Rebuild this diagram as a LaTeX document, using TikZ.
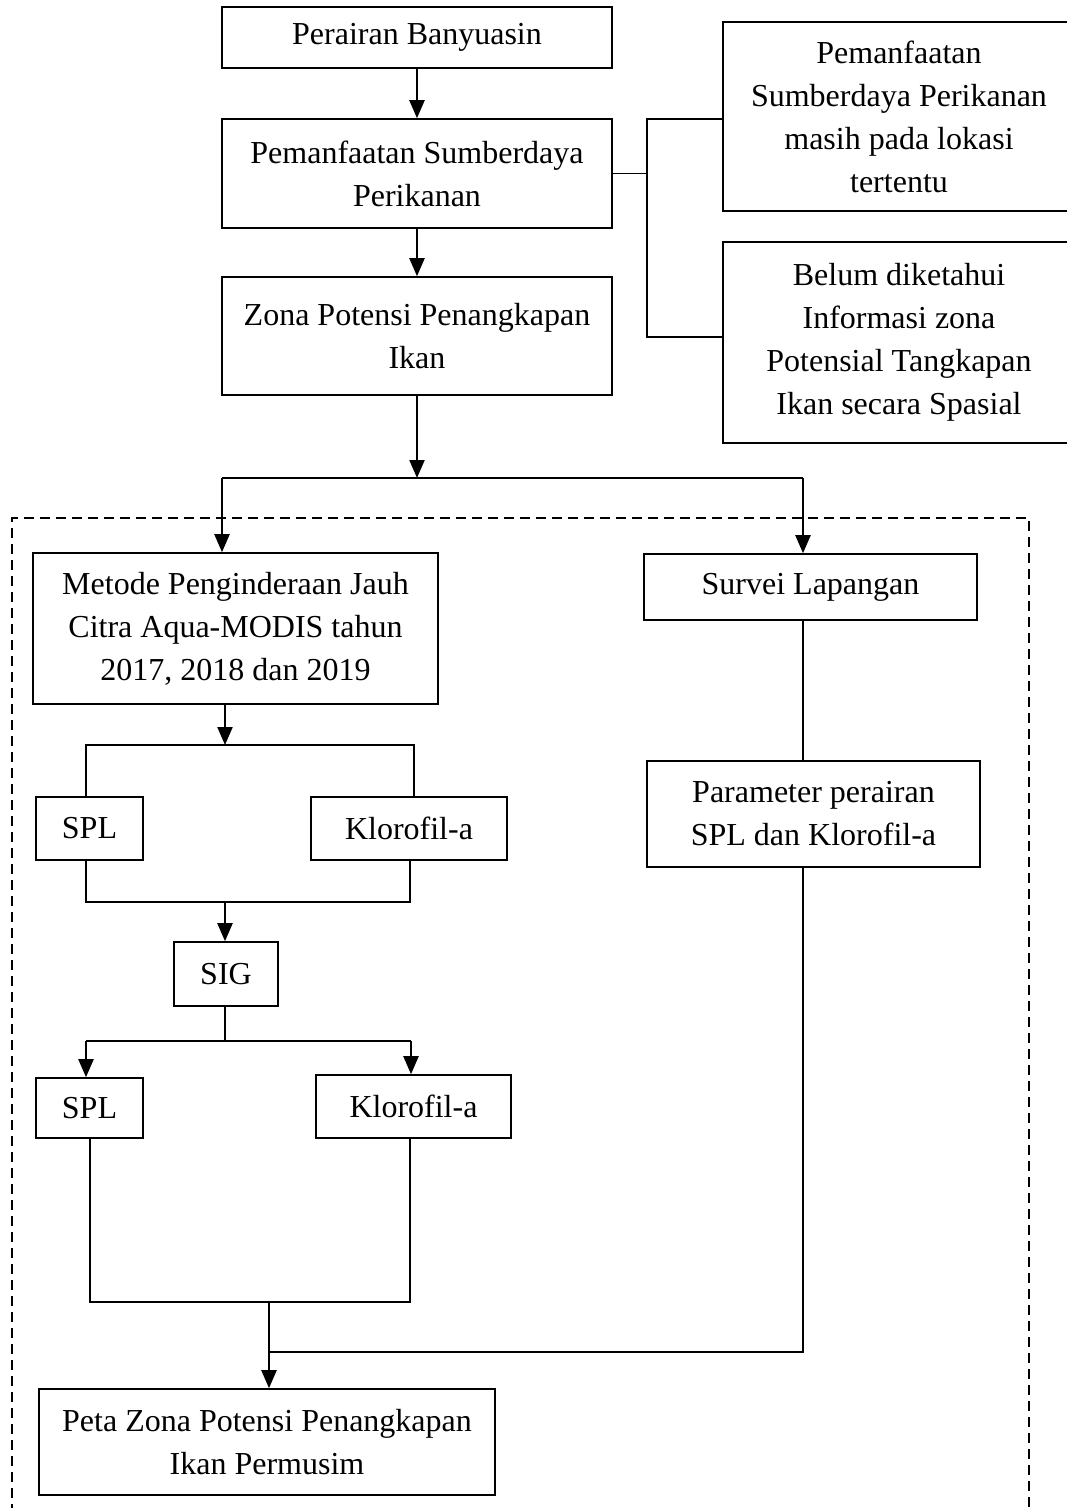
\documentclass[tikz,border=0pt]{standalone}
\usepackage{fontspec}
\setmainfont{Liberation Serif}
\usetikzlibrary{arrows.meta,calc}
\begin{document}
\begin{tikzpicture}[x=1pt,y=-1pt,
  box/.style 2 args={draw, line width=1.6pt, inner sep=0pt, align=center,
    font=\fontsize{32}{43}\selectfont, minimum width=#1pt, minimum height=#2pt},
  con/.style={line width=1.6pt},
  arr/.style={line width=2.2pt, -{Triangle[length=18pt,width=15pt]}},
  frame/.style={line width=1.4pt, dash pattern=on 10pt off 6pt}]
\useasboundingbox (0,0) rectangle (1067,1508);
\fill[white] (0,0) rectangle (1067,1508);

% boxes
\node[box={390}{61}]  (banyu)  at (417,37.5)  {Perairan Banyuasin};
\node[box={390}{109}] (pemanf) at (417,173.5) {Pemanfaatan Sumberdaya\\Perikanan};
\node[box={390}{118}] (zona)   at (417,336)   {Zona Potensi Penangkapan\\Ikan};
\node[box={352}{189}] (r1)     at (899,116.5) {Pemanfaatan\\Sumberdaya Perikanan\\masih pada lokasi\\tertentu};
\node[box={352}{201}] (r2)     at (899,342.5) {Belum diketahui\\Informasi zona\\Potensial Tangkapan\\Ikan secara Spasial};
\node[box={405}{151}] (metode) at (235.5,628.5) {Metode Penginderaan Jauh\\Citra Aqua-MODIS tahun\\2017, 2018 dan 2019};
\node[box={333}{66}]  (survei) at (810.5,587)  {Survei Lapangan};
\node[box={107}{63}]  (spl1)   at (89.5,828.5) {SPL};
\node[box={196}{63}]  (klor1)  at (409,828.5)  {Klorofil-a};
\node[box={333}{106}] (param)  at (813.5,814)  {Parameter perairan\\SPL dan Klorofil-a};
\node[box={104}{64}]  (sig)    at (226,974)    {SIG};
\node[box={107}{60}]  (spl2)   at (89.5,1108)  {SPL};
\node[box={195}{63}]  (klor2)  at (413.5,1106.5) {Klorofil-a};
\node[box={456}{106}] (peta)   at (267,1442)   {Peta Zona Potensi Penangkapan\\Ikan Permusim};

% dashed frame
\draw[frame] (12,1530) -- (12,518) -- (1029,518) -- (1029,1530);

% top chain
\draw[arr] (banyu.south) -- (pemanf.north);
\draw[arr] (pemanf.south) -- (zona.north);

% side branch
\coordinate (bt) at (647,119);
\coordinate (bb) at (647,337);
\draw[con] (pemanf.east) -- (pemanf.east -| bt);
\draw[con] (r1.west |- bt) -- (bt) -- (bb) -- (r2.west |- bb);

% split to two methods
\coordinate (j1)  at (417,478);
\coordinate (j1l) at (222,478);
\coordinate (j1r) at (803,478);
\draw[arr] (zona.south) -- (j1);
\draw[con] (j1l) -- (j1r);
\draw[arr] (j1l) -- (j1l |- metode.north);
\draw[arr] (j1r) -- (j1r |- survei.north);

% metode -> SPL / Klorofil
\coordinate (m)  at (225,745);
\coordinate (ml) at (86,745);
\coordinate (mr) at (414,745);
\draw[arr] (metode.south -| m) -- (m);
\draw[con] (ml |- spl1.north) -- (ml) -- (mr) -- (mr |- klor1.north);

% merge -> SIG
\coordinate (n)  at (225,902);
\coordinate (nl) at (86,902);
\coordinate (nr) at (410,902);
\draw[con] (nl |- spl1.south) -- (nl) -- (nr) -- (nr |- klor1.south);
\draw[arr] (n) -- (n |- sig.north);

% SIG -> SPL / Klorofil
\coordinate (s)  at (225,1041);
\coordinate (sl) at (86,1041);
\coordinate (sr) at (411,1041);
\draw[con] (sig.south -| s) -- (s);
\draw[con] (sl) -- (sr);
\draw[arr] (sl) -- (sl |- spl2.north);
\draw[arr] (sr) -- (sr |- klor2.north);

% merge -> Peta
\coordinate (q)  at (269,1302);
\coordinate (ql) at (90,1302);
\coordinate (qr) at (410,1302);
\draw[con] (ql |- spl2.south) -- (ql) -- (qr) -- (qr |- klor2.south);

% survey branch
\coordinate (pr) at (803,1352);
\coordinate (p)  at (269,1352);
\draw[con] (survei.south -| pr) -- (param.north -| pr);
\draw[con] (param.south -| pr) -- (pr) -- (p);
\draw[arr] (q) -- (q |- peta.north);
\end{tikzpicture}
\end{document}
